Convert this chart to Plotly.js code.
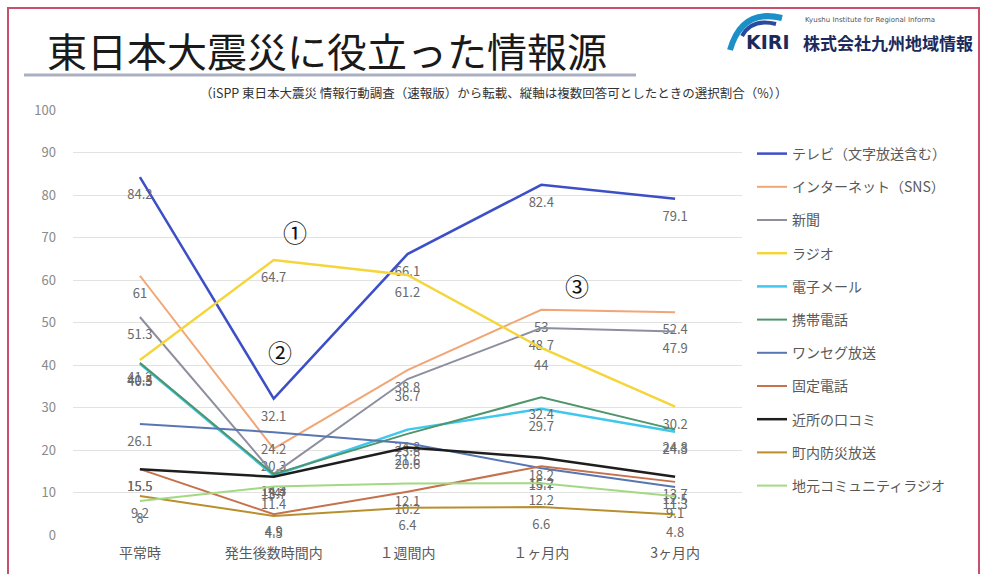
<!DOCTYPE html>
<html>
<head>
<meta charset="utf-8">
<script src="https://cdn.plot.ly/plotly-3.0.1.min.js"></script>
<style>
html,body{margin:0;padding:0;background:#fff;}
#wrap{position:relative;width:981px;height:574px;overflow:hidden;}
#chart{position:absolute;left:0;top:0;width:981px;height:574px;}
#frame{position:absolute;left:7px;top:7px;width:969px;height:600px;border:2px solid #c9506a;pointer-events:none;}
</style>
</head>
<body>
<div id="wrap"><div id="chart"></div><div id="frame"></div></div>
<script>
// ---- data ----
const categories = ["平常時", "発生後数時間内", "１週間内", "１ヶ月内", "3ヶ月内"];
const seriesNames = ["テレビ（文字放送含む）", "インターネット（SNS）", "新聞", "ラジオ", "電子メール", "携帯電話", "ワンセグ放送", "固定電話", "近所の口コミ", "町内防災放送", "地元コミュニティラジオ"];
const tv        = [84.2, 32.1, 66.1, 82.4, 79.1];
const internet  = [61, 20.3, 38.8, 53, 52.4];
const newspaper = [51.3, 14.4, 36.7, 48.7, 47.9];
const radio     = [41.2, 64.7, 61.2, 44, 30.2];
const email     = [40.3, 14.0, 24.8, 29.7, 24.3];
const mobile    = [40.5, 14.3, 23.8, 32.4, 24.8];
const oneseg    = [26.1, 24.2, 21.6, 15.7, 11.3];
const fixedTel  = [15.5, 4.9, 10.2, 16.2, 12.5];
const neighbor  = [15.5, 13.7, 20.6, 18.2, 13.7];
const townRadio = [9.2, 4.5, 6.4, 6.6, 4.8];
const communityFM = [8, 11.4, 12.1, 12.2, 9.1];
const seriesValues = [tv, internet, newspaper, radio, email, mobile, oneseg, fixedTel, neighbor, townRadio, communityFM];
const yTicks = [0,10,20,30,40,50,60,70,80,90,100];

// ---- styles ----
const colors = ["#3d4fc6", "#f0a676", "#8d8f9e", "#f4d63c", "#3fc7ee", "#4f956c", "#5876b2", "#c4714c", "#1e1e1e", "#b98f2e", "#a3d983"];
const widths = [2.5, 2, 2, 2.5, 2.5, 2, 2, 2, 2.5, 2, 2];

const L = 73, R = 742, T = 110, B = 535, W = 981, H = 574;
const px = x => (x - L) / (R - L);
const py = y => (B - y) / (B - T);

const traces = seriesValues.map((vals, i) => ({
  type: "scatter",
  mode: "lines+markers+text",
  x: categories,
  y: vals,
  name: seriesNames[i],
  legendgroup: "g" + i,
  text: vals.map(v => String(v)),
  textposition: "bottom center",
  textfont: {family: "Noto Sans CJK JP, sans-serif", size: 13, color: "#6a6a6a"},
  line: {color: colors[i], width: widths[i]},
  marker: {size: 18, color: "rgba(0,0,0,0)", line: {width: 0, color: "rgba(0,0,0,0)"}},
  hoverinfo: "skip",
  cliponaxis: false
}));

const annotations = [
  {xref: "paper", yref: "paper", x: px(45), y: py(50), xanchor: "left", yanchor: "middle",
   text: "東日本大震災に役立った情報源", showarrow: false,
   font: {family: "Noto Sans CJK JP, sans-serif", size: 40, color: "#1a1a1a"}},
  {xref: "paper", yref: "paper", x: px(494), y: py(92), xanchor: "center", yanchor: "middle",
   text: "（iSPP 東日本大震災 情報行動調査（速報版）から転載、縦軸は複数回答可としたときの選択割合（%））", showarrow: false,
   font: {family: "Noto Sans CJK JP, sans-serif", size: 12.5, color: "#333333"}},
  {xref: "paper", yref: "paper", x: px(744), y: py(42), xanchor: "left", yanchor: "middle",
   text: "<b>KIRI</b>", showarrow: false,
   font: {family: "DejaVu Sans, sans-serif", size: 19, color: "#1b2a5c"}},
  {xref: "paper", yref: "paper", x: px(803), y: py(20), xanchor: "left", yanchor: "middle",
   text: "Kyushu Institute for Regional Informa", showarrow: false,
   font: {family: "DejaVu Sans, sans-serif", size: 7, color: "#555"}},
  {xref: "paper", yref: "paper", x: px(801), y: py(43), xanchor: "left", yanchor: "middle",
   text: "<b>株式会社九州地域情報</b>", showarrow: false,
   font: {family: "Noto Sans CJK JP, sans-serif", size: 17, color: "#1b2a5c"}},
  {xref: "x", yref: "y", x: 1.16, y: 71.3, text: "①", showarrow: false,
   font: {family: "Noto Sans CJK JP, sans-serif", size: 24, color: "#111"}},
  {xref: "x", yref: "y", x: 1.05, y: 43.2, text: "②", showarrow: false,
   font: {family: "Noto Sans CJK JP, sans-serif", size: 24, color: "#111"}},
  {xref: "x", yref: "y", x: 3.27, y: 58.8, text: "③", showarrow: false,
   font: {family: "Noto Sans CJK JP, sans-serif", size: 24, color: "#111"}}
];

const shapes = [
  {type: "line", xref: "paper", yref: "paper", x0: px(24), x1: px(636), y0: py(75), y1: py(75),
   line: {color: "#a9b0c2", width: 3}},
  // logo arcs
  {type: "path", xref: "paper", yref: "paper",
   path: `M ${px(730)} ${py(50)} Q ${px(742)} ${py(8)} ${px(782)} ${py(18)}`,
   line: {color: "#1c8fc8", width: 6}},
  {type: "path", xref: "paper", yref: "paper",
   path: `M ${px(742)} ${py(36)} Q ${px(752)} ${py(18)} ${px(776)} ${py(24)}`,
   line: {color: "#2a4aa0", width: 4}}
];

const layout = {
  width: W, height: H,
  margin: {l: L, r: W - R, t: T, b: H - B, pad: 0},
  paper_bgcolor: "rgba(0,0,0,0)",
  plot_bgcolor: "rgba(0,0,0,0)",
  font: {family: "Noto Sans CJK JP, sans-serif", color: "#595959"},
  xaxis: {
    type: "category", range: [-0.5, 4.5], showgrid: false, zeroline: false, showline: false,
    ticks: "", ticklabelstandoff: 8, tickfont: {size: 14, color: "#595959"}, fixedrange: true
  },
  yaxis: {
    range: [0, 100], tickvals: yTicks, showgrid: true, gridcolor: "#e2e2e2", gridwidth: 1,
    zeroline: false, showline: false, ticks: "", ticklabelstandoff: 16,
    tickfont: {size: 13, color: "#8a8a8a"}, fixedrange: true
  },
  showlegend: true,
  legend: {
    x: px(752), y: py(138), xanchor: "left", yanchor: "top",
    font: {size: 14, color: "#595959"}, tracegroupgap: 12,
    bgcolor: "rgba(0,0,0,0)", itemwidth: 30
  },
  annotations: annotations,
  shapes: shapes
};

Plotly.newPlot("chart", traces, layout, {displayModeBar: false, staticPlot: true});
</script>
</body>
</html>
